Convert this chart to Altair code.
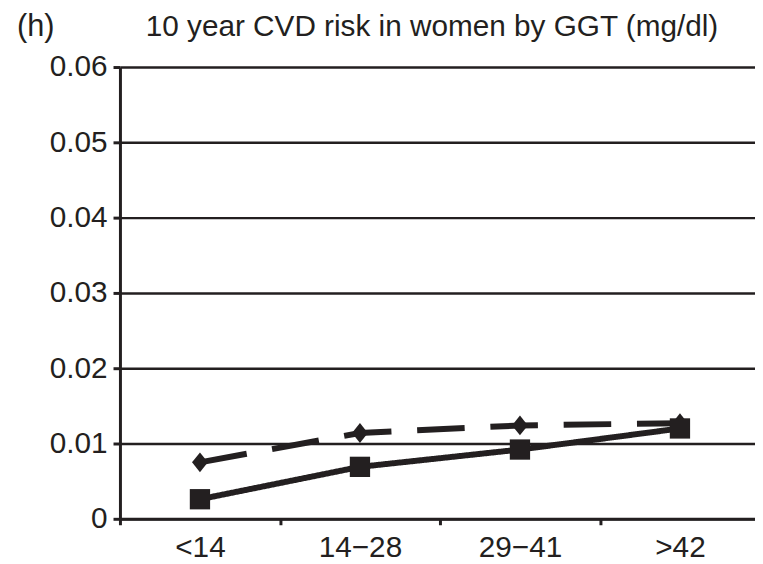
import altair as alt
import pandas as pd

# GGT bands and 10 year CVD risk
ggt_bands = ["<14", "14\u221228", "29\u221241", ">42"]
risk_dashed = [0.0075, 0.0114, 0.0124, 0.0127]   # diamonds, dashed line
risk_solid = [0.0026, 0.0069, 0.0092, 0.0120]    # squares, solid line
series_names = ["Group 1", "Group 2"]
y_ticks = [0, 0.01, 0.02, 0.03, 0.04, 0.05, 0.06]

panel_tag = "(h)"
chart_title = "10 year CVD risk in women by GGT (mg/dl)"

df = pd.DataFrame({
    "ggt": ggt_bands * 2,
    "series": [series_names[0]] * 4 + [series_names[1]] * 4,
    "risk": risk_dashed + risk_solid,
})

ink = "#231f20"
font = "Liberation Sans"

base = alt.Chart(df).encode(
    x=alt.X("ggt:N", sort=ggt_bands,
            scale=alt.Scale(domain=ggt_bands, range=[0, 646], paddingInner=0, paddingOuter=0),
            axis=alt.Axis(title=None, labelAngle=0, tickBand="extent", tickSize=6,
                          tickWidth=3, labelPadding=8, grid=False)),
    y=alt.Y("risk:Q", scale=alt.Scale(domain=[0, 0.06], nice=False, zero=True),
            axis=alt.Axis(title=None, values=y_ticks, tickSize=7, tickWidth=3,
                          labelPadding=6, grid=True,
                          labelExpr="datum.value == 0 ? '0' : format(datum.value, '.2f')")),
)

lines = base.mark_line(strokeWidth=6, color=ink).encode(
    strokeDash=alt.StrokeDash("series:N", scale=alt.Scale(domain=series_names,
                              range=[[48, 26], [1, 0]]), legend=None),
    detail="series:N",
)

diamond = "M0,-1L0.8,0L0,1L-0.8,0Z"
points = base.mark_point(filled=True, opacity=1, color=ink).encode(
    shape=alt.Shape("series:N", scale=alt.Scale(domain=series_names,
                    range=[diamond, "square"]), legend=None),
    size=alt.Size("series:N", scale=alt.Scale(domain=series_names, range=[400, 420]),
                  legend=None),
)

tag = alt.Chart(pd.DataFrame({"t": [panel_tag]})).mark_text(
    align="left", baseline="alphabetic", font=font, fontSize=31, color=ink
).encode(x=alt.value(-104), y=alt.value(-31), text="t:N")

title = alt.Chart(pd.DataFrame({"t": [chart_title]})).mark_text(
    align="left", baseline="alphabetic", font=font, fontSize=30, color=ink
).encode(x=alt.value(26), y=alt.value(-31), text="t:N")

chart = alt.layer(lines, points, tag, title).properties(
    width=641, height=456,
    autosize=alt.AutoSizeParams(type="none"),
    padding={"left": 113, "top": 57, "right": 0, "bottom": 40},
).configure_view(stroke=None).configure_axis(
    labelFont=font, labelFontSize=30, labelColor=ink,
    domainColor=ink, domainWidth=3, tickColor=ink,
    gridColor=ink, gridWidth=2.5, gridOpacity=1,
)

chart.save("out.html", embed_options={"renderer": "svg", "actions": False})
